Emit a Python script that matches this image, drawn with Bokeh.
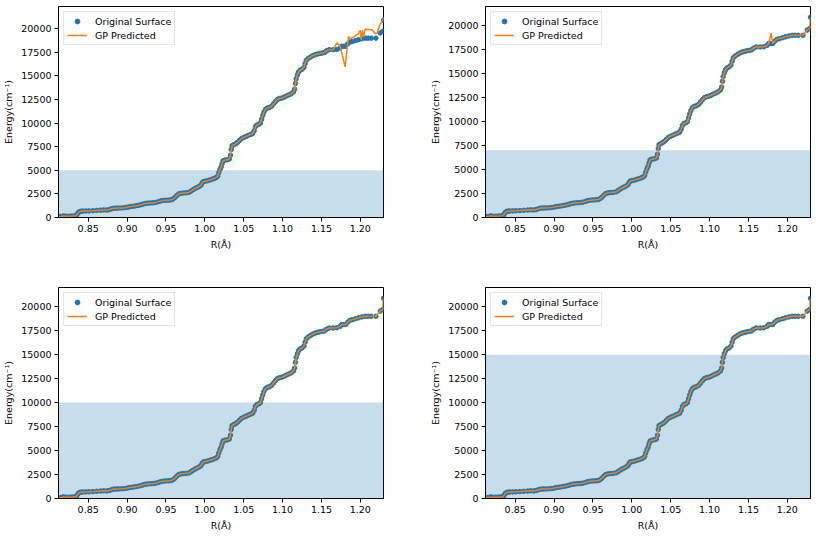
from bokeh.plotting import figure
from bokeh.models import BoxAnnotation, FixedTicker, NumeralTickFormatter, Range1d
from bokeh.layouts import column, row
from bokeh.embed import file_html
from bokeh.resources import INLINE

# Bond length R (Å) and energy (cm^-1) of the original potential surface
r_vals = [
    0.8118, 0.8150, 0.8185, 0.8220, 0.8255, 0.8290, 0.8320, 0.8345, 0.8360, 0.8375,
    0.8390, 0.8405, 0.8430, 0.8470, 0.8510, 0.8560, 0.8610, 0.8660, 0.8700, 0.8740,
    0.8770, 0.8800, 0.8830, 0.8860, 0.8890, 0.8930, 0.8970, 0.9005, 0.9035, 0.9070,
    0.9105, 0.9140, 0.9175, 0.9205, 0.9235, 0.9265, 0.9300, 0.9335, 0.9370, 0.9405,
    0.9435, 0.9465, 0.9500, 0.9535, 0.9565, 0.9590, 0.9615, 0.9640, 0.9665, 0.9695,
    0.9730, 0.9765, 0.9800, 0.9825, 0.9850, 0.9875, 0.9900, 0.9925, 0.9950, 0.9965,
    0.9980, 1.0005, 1.0035, 1.0065, 1.0095, 1.0125, 1.0150, 1.0165, 1.0180, 1.0195,
    1.0210, 1.0222, 1.0235, 1.0260, 1.0290, 1.0315, 1.0330, 1.0340, 1.0350, 1.0370,
    1.0395, 1.0420, 1.0445, 1.0470, 1.0500, 1.0530, 1.0560, 1.0590, 1.0615, 1.0635,
    1.0650, 1.0670, 1.0695, 1.0715, 1.0730, 1.0745, 1.0760, 1.0780, 1.0805, 1.0830,
    1.0860, 1.0885, 1.0910, 1.0935, 1.0960, 1.0990, 1.1020, 1.1050, 1.1080, 1.1110,
    1.1140, 1.1155, 1.1165, 1.1175, 1.1190, 1.1205, 1.1225, 1.1250, 1.1275, 1.1290,
    1.1305, 1.1330, 1.1360, 1.1390, 1.1420, 1.1450, 1.1480, 1.1510, 1.1540, 1.1565,
    1.1600, 1.1650, 1.1697, 1.1740, 1.1761, 1.1790, 1.1813, 1.1840, 1.1869, 1.1900,
    1.1940, 1.1977, 1.2020, 1.2063, 1.2100, 1.2140, 1.2200, 1.2256, 1.2290, 1.2298,
]
e_surface = [
    90, 110, 170, 130, 140, 150, 160, 180, 380, 540,
    620, 660, 680, 690, 700, 720, 750, 780, 800, 790,
    830, 920, 980, 990, 1000, 1010, 1040, 1090, 1150, 1180,
    1230, 1280, 1340, 1420, 1480, 1520, 1540, 1560, 1600, 1680,
    1760, 1810, 1830, 1840, 1870, 1950, 2120, 2330, 2500, 2570,
    2600, 2620, 2680, 2820, 2950, 3080, 3180, 3280, 3420, 3650,
    3800, 3850, 3900, 3980, 4060, 4150, 4250, 4380, 4750, 5100,
    5350, 5700, 6000, 6080, 6120, 6200, 6600, 7200, 7600, 7700,
    7800, 7950, 8150, 8350, 8480, 8580, 8700, 8800, 8900, 9200,
    9600, 9800, 9880, 10000, 10400, 10800, 11150, 11450, 11600, 11650,
    11800, 12050, 12300, 12500, 12600, 12650, 12750, 12880, 12980, 13100,
    13300, 13600, 14200, 14700, 15100, 15400, 15600, 15700, 15900, 16300,
    16650, 16850, 17000, 17150, 17250, 17320, 17380, 17420, 17480, 17650,
    17780, 17780, 17800, 17950, 18140, 18140, 18150, 18400, 18590, 18650,
    18750, 18840, 18930, 19000, 19000, 19000, 19000, 19540, 19720, 20870,
]

# GP prediction trained below 5000 cm^-1: follows the surface, then this tail from 1.1697 Å
gp5000_tail_r = [1.1697, 1.1740, 1.1804, 1.1848, 1.1870, 1.1930, 1.1977, 1.1998, 1.2010,
                 1.2027, 1.2040, 1.2063, 1.2150, 1.2192, 1.2213, 1.2256, 1.2290, 1.2298]
gp5000_tail_e = [18500, 18170, 15950, 19190, 18930, 19200, 19480, 19830, 18840,
                 19830, 19100, 19930, 19900, 19480, 19500, 20530, 20810, 21230]

# GP prediction trained below 7000 cm^-1: follows the surface except at these points
gp7000_dev_r = [1.1790]
gp7000_dev_e = [19200]

# Training cut-offs (cm^-1) and y-axis tops for the four panels
thresholds = [5000, 7000, 10000, 15000]
y_tops = [22350, 22000, 22000, 22000]

x_ticks = [0.85, 0.90, 0.95, 1.00, 1.05, 1.10, 1.15, 1.20]
y_ticks = [0, 2500, 5000, 7500, 10000, 12500, 15000, 17500, 20000]

# Assemble the GP curves for each panel
cut = sum(r < gp5000_tail_r[0] for r in r_vals)
gp_5000_r = r_vals[:cut] + gp5000_tail_r
gp_5000_e = e_surface[:cut] + gp5000_tail_e

dev = dict(zip(gp7000_dev_r, gp7000_dev_e))
gp_7000_r = list(r_vals)
gp_7000_e = [dev.get(r, e) for r, e in zip(r_vals, e_surface)]

gp_10000_r, gp_10000_e = list(r_vals), list(e_surface)
gp_15000_r, gp_15000_e = list(r_vals), list(e_surface)

gp_curves = [
    (gp_5000_r, gp_5000_e),
    (gp_7000_r, gp_7000_e),
    (gp_10000_r, gp_10000_e),
    (gp_15000_r, gp_15000_e),
]

BLUE = "#1f77b4"
ORANGE = "#ff7f0e"
FONT = "DejaVu Sans"
FS = "9.5px"

# (left, right, top, bottom) borders around each 325x211 frame
borders = [
    (58, 26, 6, 51),
    (76, 8, 6, 51),
    (58, 26, 19, 38),
    (76, 8, 19, 38),
]


def make_panel(i):
    bl, br, bt, bb = borders[i]
    p = figure(
        frame_width=325, frame_height=211,
        min_border_left=bl, min_border_right=br,
        min_border_top=bt, min_border_bottom=bb,
        x_range=Range1d(min(r_vals), max(r_vals)),
        y_range=Range1d(0, y_tops[i]),
        output_backend="svg", toolbar_location=None,
    )
    p.xgrid.visible = False
    p.ygrid.visible = False
    p.outline_line_color = "black"
    p.outline_line_width = 1
    p.outline_line_alpha = 1

    p.add_layout(BoxAnnotation(bottom=0, top=thresholds[i], fill_color=BLUE,
                               fill_alpha=0.25, line_alpha=0, level="underlay"))

    p.scatter(r_vals, e_surface, size=4.5, color=BLUE, legend_label="Original Surface")
    gr, ge = gp_curves[i]
    p.line(gr, ge, line_width=1.5, color=ORANGE, legend_label="GP Predicted")

    p.xaxis.ticker = FixedTicker(ticks=x_ticks)
    p.yaxis.ticker = FixedTicker(ticks=y_ticks)
    p.xaxis.formatter = NumeralTickFormatter(format="0.00")
    p.yaxis.formatter = NumeralTickFormatter(format="0")
    p.xaxis.axis_label = "R(Å)"
    p.yaxis.axis_label = "Energy(cm⁻¹)"
    for ax in (p.xaxis[0], p.yaxis[0]):
        ax.axis_line_color = "black"
        ax.major_tick_line_color = "black"
        ax.major_tick_in = 0
        ax.major_tick_out = 4
        ax.minor_tick_line_color = None
        ax.major_label_text_font = FONT
        ax.major_label_text_font_size = FS
        ax.major_label_text_color = "black"
        ax.major_label_standoff = 3
        ax.axis_label_text_font = FONT
        ax.axis_label_text_font_size = FS
        ax.axis_label_text_font_style = "normal"
        ax.axis_label_text_color = "black"
        ax.axis_label_standoff = 4

    lg = p.legend[0]
    lg.location = "top_left"
    lg.label_text_font = FONT
    lg.label_text_font_size = FS
    lg.label_text_color = "black"
    lg.glyph_width = 20
    lg.glyph_height = 12
    lg.label_height = 12
    lg.label_standoff = 8
    lg.padding = 3
    lg.margin = 5
    lg.spacing = 2
    lg.border_line_color = "#cccccc"
    lg.border_line_width = 1
    lg.background_fill_alpha = 0.8
    return p


panels = [make_panel(i) for i in range(4)]
layout = column(row(panels[0], panels[1]), row(panels[2], panels[3]))

open("out.html", "w").write(file_html(layout, INLINE))
